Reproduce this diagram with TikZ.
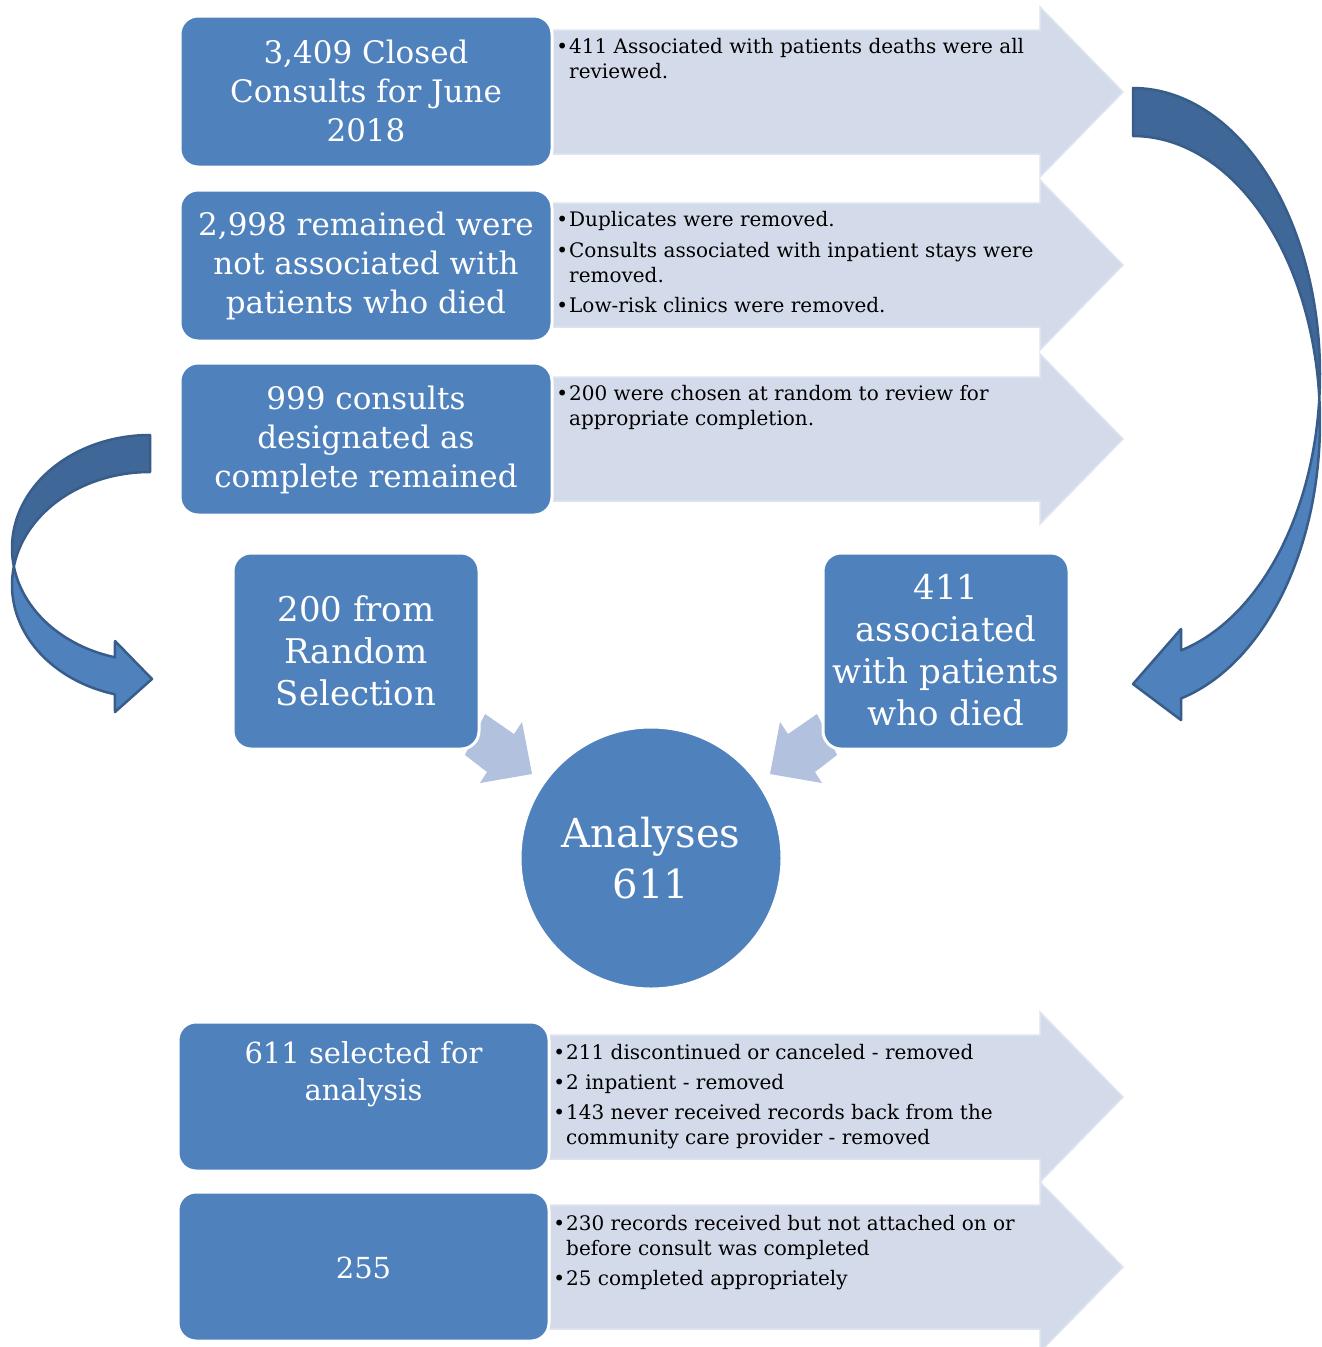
\documentclass[tikz,border=0pt]{standalone}
\usepackage{fontspec}
\setmainfont{DejaVu Serif}
\definecolor{boxblue}{RGB}{79,129,189}
\definecolor{chevfill}{RGB}{211,219,234}
\definecolor{chevline}{RGB}{222,228,240}
\definecolor{smallarr}{RGB}{177,193,222}
\definecolor{darkback}{RGB}{63,103,151}
\definecolor{arrline}{RGB}{56,93,138}
\newcommand{\bul}{\llap{•\hspace{1pt}}}
\newcommand{\chevronat}[1]{%
  \path[chev] (540,{#1-62}) -- (1040,{#1-62}) -- (1040,{#1-85}) -- (1123,#1)
     -- (1040,{#1+85}) -- (1040,{#1+62}) -- (540,{#1+62}) -- cycle;}
\begin{document}
\begin{tikzpicture}[x=1pt,y=-1pt,
  bigbox/.style={rectangle, rounded corners=18pt, fill=boxblue, draw=white, line width=3pt, inner sep=0pt},
  chev/.style={fill=chevfill, draw=chevline, line width=1.5pt},
  smallarrow/.style={fill=smallarr, draw=none},
  cback/.style={fill=darkback, draw=arrline, line width=2.5pt, line join=round},
  cfront/.style={fill=boxblue, draw=arrline, line width=2.5pt, line join=round},
  btxt/.style={text=white, anchor=base, inner sep=0pt},
  fa/.style={btxt, font=\fontsize{31}{40}\selectfont},
  fb/.style={btxt, font=\fontsize{34}{42}\selectfont},
  fc/.style={btxt, font=\fontsize{40}{50}\selectfont},
  fd/.style={btxt, font=\fontsize{29}{37}\selectfont},
  stxt/.style={text=black, anchor=base west, inner sep=0pt, font=\fontsize{20}{25}\selectfont}]
\useasboundingbox (0,0) rectangle (1322,1347);
\fill[white] (0,0) rectangle (1322,1347);

% chevrons
\chevronat{92}
\chevronat{265}
\chevronat{439}
\chevronat{1097}
\chevronat{1267}

% small arrows toward circle
\path[smallarrow] (485,714) -- (514,734) -- (522,722) -- (532,774) -- (480,783) -- (487,772) -- (465,755) -- cycle;
\path[smallarrow] (817,714) -- (788,734) -- (780,722) -- (770,774) -- (822,783) -- (815,772) -- (837,755) -- cycle;

% boxes
\node[bigbox, minimum width=372pt, minimum height=151pt] (b1) at (366,91.5) {};
\node[bigbox, minimum width=372pt, minimum height=151pt] (b2) at (366,265.5) {};
\node[bigbox, minimum width=372pt, minimum height=152pt] (b3) at (366,439) {};
\node[bigbox, minimum width=246pt, minimum height=196pt] (b200) at (356,651) {};
\node[bigbox, minimum width=246pt, minimum height=196pt] (b411) at (946,651) {};
\node[circle, fill=boxblue, draw=white, line width=3pt, minimum size=262pt, inner sep=0pt] (c) at (651,858) {};
\node[bigbox, minimum width=371pt, minimum height=149pt] (b4) at (363.5,1096.5) {};
\node[bigbox, minimum width=371pt, minimum height=149pt] (b5) at (363.5,1266.5) {};

% curved arrow right
\draw[cback] plot[domain=-90:4.8, samples=60] ({1133+187*cos(\x)},{374+286*sin(\x)})
  -- plot[domain=-4.8:-90, samples=60] ({1133+187*cos(\x)},{422+286*sin(\x)}) -- cycle;
\draw[cfront] plot[domain=-4.8:75.1, samples=60] ({1133+187*cos(\x)},{422+286*sin(\x)})
  -- (1181,720) -- (1133,684) -- (1181,629)
  -- plot[domain=75.1:4.8, samples=60] ({1133+187*cos(\x)},{374+286*sin(\x)}) -- cycle;

% curved arrow left
\draw[cback] plot[domain=-90:9.42, samples=60] ({150-138*cos(\x)},{548+113*sin(\x)})
  -- plot[domain=-9.42:-90, samples=60] ({150-138*cos(\x)},{585+113*sin(\x)}) -- cycle;
\draw[cfront] plot[domain=-9.42:75.3, samples=60] ({150-138*cos(\x)},{585+113*sin(\x)})
  -- (115,712) -- (152,679) -- (115,641)
  -- plot[domain=75.3:9.42, samples=60] ({150-138*cos(\x)},{548+113*sin(\x)}) -- cycle;

% box texts
\node[fa] (t1a) at (366,63) {3,409 Closed};
\node[fa] (t1b) at (366,102) {Consults for June};
\node[fa] (t1c) at (366,141) {2018};
\node[fa] (t2a) at (366,235) {2,998 remained were};
\node[fa] (t2b) at (366,274) {not associated with};
\node[fa] (t2c) at (366,313) {patients who died};
\node[fa] (t3a) at (366,409) {999 consults};
\node[fa] (t3b) at (366,448) {designated as};
\node[fa] (t3c) at (366,487) {complete remained};
\node[fb] (t4a) at (356,621) {200 from};
\node[fb] (t4b) at (356,663) {Random};
\node[fb] (t4c) at (356,705) {Selection};
\node[fb] (t5a) at (946,599) {411};
\node[fb] (t5b) at (946,641) {associated};
\node[fb] (t5c) at (946,683) {with patients};
\node[fb] (t5d) at (946,725) {who died};
\node[fc] (t6a) at (651,847) {Analyses};
\node[fc] (t6b) at (651,898) {611};
\node[fd] (t7a) at (363.5,1063) {611 selected for};
\node[fd] (t7b) at (363.5,1100) {analysis};
\node[fd] (t8a) at (363.5,1278) {255};

% chevron texts
\node[stxt] (s1a) at (569,53) {\bul 411 Associated with patients deaths were all};
\node[stxt] (s1b) at (569,78) {reviewed.};
\node[stxt] (s2a) at (569,226) {\bul Duplicates were removed.};
\node[stxt] (s2b) at (569,257) {\bul Consults associated with inpatient stays were};
\node[stxt] (s2c) at (569,282) {removed.};
\node[stxt] (s2d) at (569,312) {\bul Low-risk clinics were removed.};
\node[stxt] (s3a) at (569,400) {\bul 200 were chosen at random to review for};
\node[stxt] (s3b) at (569,425) {appropriate completion.};
\node[stxt] (s4a) at (566,1059) {\bul 211 discontinued or canceled - removed};
\node[stxt] (s4b) at (566,1089) {\bul 2 inpatient - removed};
\node[stxt] (s4c) at (566,1119) {\bul 143 never received records back from the};
\node[stxt] (s4d) at (566,1144) {community care provider - removed};
\node[stxt] (s5a) at (566,1230) {\bul 230 records received but not attached on or};
\node[stxt] (s5b) at (566,1255) {before consult was completed};
\node[stxt] (s5c) at (566,1285) {\bul 25 completed appropriately};
\end{tikzpicture}
\end{document}
